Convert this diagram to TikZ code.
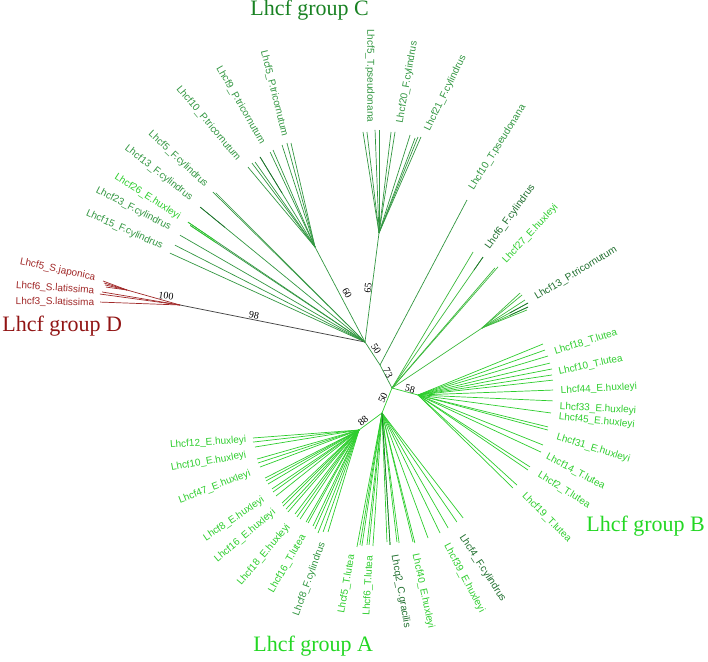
\documentclass[tikz,border=0pt]{standalone}
\usepackage{fontspec}
\setmainfont{Liberation Serif}
\setsansfont{Liberation Sans}
\usetikzlibrary{calc}

\definecolor{grpC}{RGB}{50,150,65}
\definecolor{grpCdark}{RGB}{30,110,45}
\definecolor{grpM}{RGB}{60,185,60}
\definecolor{grpAB}{RGB}{45,205,45}
\definecolor{grpD}{RGB}{160,40,40}
\definecolor{titC}{RGB}{25,130,35}
\definecolor{titAB}{RGB}{35,215,35}
\definecolor{titD}{RGB}{145,20,20}

\begin{document}
\begin{tikzpicture}[x=1pt,y=1pt,line width=0.7pt,
    lbl/.style={font=\sffamily\fontsize{10}{12}\selectfont, inner sep=0.5pt},
    leafE/.style={lbl, anchor=east},
    leafW/.style={lbl, anchor=west},
    boot/.style={font=\fontsize{10}{12}\selectfont, inner sep=0pt},
    grp/.style={font=\fontsize{22}{24}\selectfont, anchor=base west, inner sep=0pt}]
    \useasboundingbox (0,0) rectangle (708,-661);

    % Inner nodes
    \coordinate (N1) at (365,-342);
    \coordinate (D) at (180,-305);
    \coordinate (D2) at (127,-290);
    \coordinate (T) at (315,-247);
    \coordinate (C2) at (379,-233);
    \coordinate (N2) at (380,-365);
    \coordinate (N3) at (392,-388);
    \coordinate (B) at (418,-395);
    \coordinate (A2) at (382,-413);
    \coordinate (A1) at (359,-430);
    \coordinate (P2) at (482,-328);

    % Backbone
    \draw[black!75] (N1) -- (D);
    \draw[grpD] (D) -- (D2);
    \draw[grpC] (N1) -- (T);
    \draw[grpC] (N1) -- (C2);
    \draw[grpC] (N1) -- (N2) -- (N3);
    \draw[grpAB] (N3) -- (B);
    \draw[grpAB] (N3) -- (A2) -- (A1);
    \draw[grpM] (N3) -- (P2);

    % Group D leaves
    \foreach \a/\r [count=\i] in {177.9/80, 172.2/80.8, 170.5/79}
        \draw[grpD] (D) -- ++(\a:\r) coordinate (D-\i);
    \foreach \a/\r [count=\i] in {159.4/25.6, 163/24, 167/22.6, 172/21.2}
        \draw[grpD] (D2) -- ++(\a:\r) coordinate (D2-\i);

    % Group C leaves
    \foreach \a/\r [count=\i] in {135.4/213.6, 135.0/211, 140.7/213, 145.9/213.8,
            146.3/210, 150.0/213.7, 153.0/213.3, 155.5/214.4}
        \draw[grpC] (N1) -- ++(\a:\r) coordinate (N1-\i);
    \draw[grpCdark] (N1-3) -- ($(N1-3)!0.15!(N1)$);
    \draw[grpAB] (N1-4) -- ($(N1-4)!0.15!(N1)$);
    \draw[grpAB] (N1-5) -- ($(N1-5)!0.15!(N1)$);
    \foreach \a/\r [count=\i] in {130.0/104.3, 126.9/105, 125.2/104, 121.4/105.5,
            115.3/105, 113.4/105.7, 107.9/107.2, 105.1/107.7, 103.0/106.7}
        \draw[grpC] (T) -- ++(\a:\r) coordinate (T-\i);
    \draw[grpCdark] (T-4) -- ($(T-4)!0.4!(T)$);
    \foreach \a/\r [count=\i] in {99.0/102.3, 96.8/101.7, 92.2/103.1, 90/103, 83.2/101.7,
            81.0/102.3, 72.4/102.8, 69.2/101.6, 67.9/103.6, 66.4/104.8}
        \draw[grpC] (C2) -- ++(\a:\r) coordinate (C2-\i);
    \draw[grpC] (N2) -- ++(62.2:186.5) coordinate (N2-1);

    % Leaves on the right of N3
    \foreach \a/\r [count=\i] in {59.2/158.3, 55.2/159.5, 49.4/158.1, 48.8/160.9}
        \draw[grpM] (N3) -- ++(\a:\r) coordinate (N3-\i);
    \draw[grpCdark] (N3-2) -- ($(N3-2)!0.1!(N3)$);
    \foreach \a/\r [count=\i] in {42.6/51.7, 39.5/51.9, 33.1/51.3, 28.5/52.4, 24.5/50.6, 21.8/48.5}
        \draw[grpM] (P2) -- ++(\a:\r) coordinate (P2-\i);
    \draw[grpCdark] (P2-4) -- ($(P2-4)!0.4!(P2)$);
    \draw[grpCdark] (P2-5) -- ($(P2-5)!0.4!(P2)$);

    % Group B leaves
    \foreach \a/\r [count=\i] in {22.2/135, 19.5/134.7, 16.7/135.7, 13.6/135.8, 11.0/136.5,
            8.5/135.5, 6.3/135.8, 2.1/135.1, -2.5/135.1, -7.7/134.2, -13.8/133.9,
            -15.1/134.6, -21.8/134.6, -24.9/135.6, -32.7/133.1, -34.3/133.1,
            -42.3/133.8, -44.4/132.9}
        \draw[grpAB] (B) -- ++(\a:\r) coordinate (B-\i);

    % Group A leaves
    \foreach \a/\r [count=\i] in {184.3/106.3, 186.5/106.7, 189.3/105.4, 195.9/106,
            198.1/106.3, 200.5/105.7, 207.1/105.5, 208.7/106.1, 210.7/105.8,
            214.1/105.1, 215.8/106, 218.5/106, 223.5/106.1, 225/107.5, 227.3/107.6,
            229.1/108.5, 232.7/105.6, 234.5/106.8, 236.5/106.8, 240.1/106.2,
            241.3/106.1, 244.4/106.5, 246/108.3, 248.3/110.9, 250.6/108, 253.1/106.6}
        \draw[grpAB] (A1) -- ++(\a:\r) coordinate (A1-\i);
    \foreach \a/\r [count=\i] in {259.4/136.3, 260.5/133.8, 261.4/134.5, 263.5/132.8,
            264.4/132.6, 266.1/133.3, 272.2/129.1, 273.5/132.2, 276.6/129.9,
            277.5/131.1, 283.5/132.7, 284.2/134.1, 290.2/133.2, 295.8/133.3,
            299.9/132.6, 304.5/132.3, 307.7/132.6}
        \draw[grpAB] (A2) -- ++(\a:\r) coordinate (A2-\i);
    \draw[grpCdark] (A2) -- (A2-8);

    % Leaf labels
    \foreach \x/\y/\r/\t/\c [count=\i] in {
            96/-278/-12/Lhcf5\_S.japonica/grpD,
            95/-291/-4/Lhcf6\_S.latissima/grpD,
            95/-303/-1/Lhcf3\_S.latissima/grpD,
            163/-247/-24/Lhcf15\_F.cylindrus/grpC,
            171/-228/-27/Lhcf23\_F.cylindrus/grpC,
            180/-218/-33/Lhcf26\_E.huxleyi/grpAB,
            192/-199/-38/Lhcf13\_F.cylindrus/grpC,
            207/-186/-43/Lhcf5\_F.cylindrus/grpC,
            239/-160/-50/Lhcf10\_P.tricornutum/grpC,
            263/-144/-60/Lhcf9\_P.tricornutum/grpC,
            285/-137/-76/Lhcf5\_P.tricornutum/grpC,
            370/-123/-90/Lhcf5\_T.pseudonana/grpC,
            247/-440/4/Lhcf12\_E.huxleyi/grpAB,
            247/-455/10/Lhcf10\_E.huxleyi/grpAB,
            251/-473/21/Lhcf47\_E.huxleyi/grpAB,
            264/-499/34/Lhcf8\_E.huxleyi/grpAB,
            275/-511/40/Lhcf16\_E.huxleyi/grpAB,
            289/-525/50/Lhcf18\_E.huxleyi/grpAB,
            304/-535/60/Lhcf16\_T.lutea/grpAB,
            323/-542/70/Lhcf8\_F.cylindrus/grpC,
            352/-554/80/Lhcf5\_T.lutea/grpAB,
            370/-555/87/Lhcf6\_T.lutea/grpAB}
        \node[leafE, rotate=\r, text=\c] (lE\i) at (\x,\y) {\t};
    \foreach \x/\y/\r/\t/\c [count=\i] in {
            400/-124/80/Lhcf20\_F.cylindrus/grpC,
            427/-131/64/Lhcf21\_F.cylindrus/grpC,
            471/-190/58/Lhcf10\_T.pseudonana/grpC,
            487/-249/54/Lhcf6\_F.cylindrus/grpCdark,
            504/-262/47/Lhcf27\_E.huxleyi/grpAB,
            535/-298/31/Lhcf13\_P.tricornutum/grpCdark,
            554/-352/17/Lhcf18\_T.lutea/grpAB,
            558/-372/12/Lhcf10\_T.lutea/grpAB,
            560/-391/3/Lhcf44\_E.huxleyi/grpAB,
            559/-407/-3/Lhcf33\_E.huxleyi/grpAB,
            558/-417/-6/Lhcf45\_E.huxleyi/grpAB,
            556/-437/-17/Lhcf31\_E.huxleyi/grpAB,
            546/-456/-28/Lhcf14\_T.lutea/grpAB,
            538/-474/-32/Lhcf2\_T.lutea/grpAB,
            523/-494/-45/Lhcf19\_T.lutea/grpAB,
            394/-554/-80/Lhcq2\_C.gracilis/grpCdark,
            415/-553/-78/Lhcf40\_E.huxleyi/grpAB,
            446/-544/-62/Lhcf39\_E.huxleyi/grpAB,
            461/-535/-57/Lhcf4\_F.cylindrus/grpCdark}
        \node[leafW, rotate=\r, text=\c] (lW\i) at (\x,\y) {\t};

    % Bootstrap values
    \node[boot, rotate=-8] (b100) at (166,-296) {100};
    \node[boot, rotate=-12] (b98) at (254,-315) {98};
    \node[boot, rotate=-62] (b60) at (347,-293) {60};
    \node[boot, rotate=82] (b65) at (368,-288) {65};
    \node[boot, rotate=-57] (b50a) at (376,-349) {50};
    \node[boot, rotate=-65] (b73) at (388,-373) {73};
    \node[boot, rotate=-15] (b58) at (410,-389) {58};
    \node[boot, rotate=65] (b50b) at (383,-398) {50};
    \node[boot, rotate=40] (b88) at (363,-421) {88};

    % Group names
    \node[grp, text=titC] (gC) at (250,-16) {Lhcf group C};
    \node[grp, text=titD] (gD) at (2,-331) {Lhcf group D};
    \node[grp, text=titAB] (gB) at (586,-531) {Lhcf group B};
    \node[grp, text=titAB] (gA) at (253,-651) {Lhcf group A};
\end{tikzpicture}
\end{document}
